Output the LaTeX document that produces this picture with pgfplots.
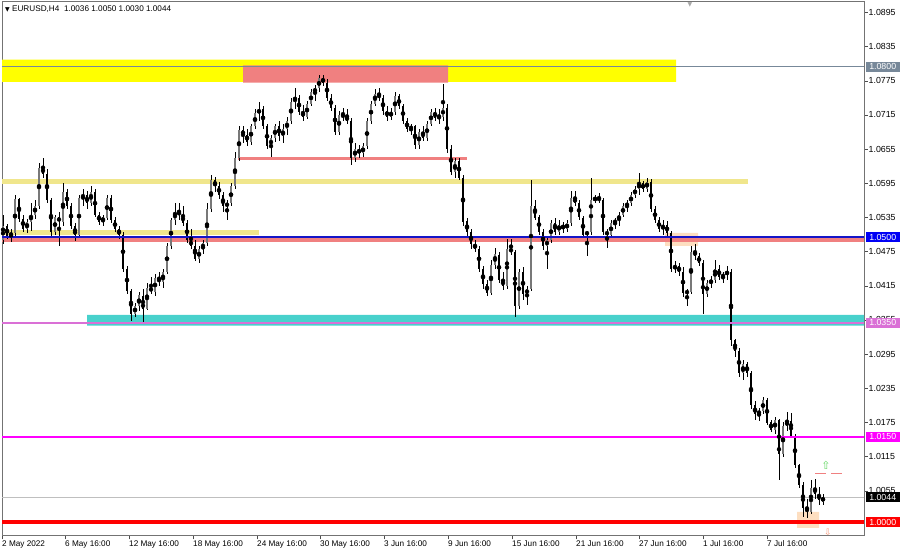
\documentclass[border=0pt]{standalone}
\usepackage{fontspec}
\setmainfont{Liberation Sans}
\newfontfamily\dejavu{DejaVu Sans}
\usepackage{pgfplots}
\usepackage{pgfplotstable}
\pgfplotsset{compat=1.18}

\definecolor{upbar}{RGB}{120,120,120}
\definecolor{zyellow}{RGB}{255,255,0}
\definecolor{zcoral}{RGB}{240,128,128}
\definecolor{zkhaki}{RGB}{240,230,140}
\definecolor{zteal}{RGB}{72,209,204}
\definecolor{zorchid}{RGB}{218,112,214}
\definecolor{zpeach}{RGB}{253,222,192}
\definecolor{zblue}{RGB}{20,20,200}
\definecolor{tagblue}{RGB}{0,0,245}
\definecolor{zmag}{RGB}{255,0,255}
\definecolor{zred}{RGB}{255,0,0}
\definecolor{zslate}{RGB}{119,136,153}
\definecolor{zpurple}{RGB}{147,112,219}
\definecolor{arrowgreen}{RGB}{100,215,100}
\definecolor{arrowred}{RGB}{245,150,120}

% EURUSD H4 bars: x = bar position, open high low close
\pgfplotstableread{
x o h l c
3 1.0495 1.0539 1.0488 1.0520
7 1.0520 1.0524 1.0497 1.0503
11 1.0503 1.0515 1.0492 1.0508
15 1.0508 1.0574 1.0500 1.0568
19 1.0568 1.0570 1.0527 1.0533
23 1.0533 1.0540 1.0510 1.0515
27 1.0515 1.0532 1.0508 1.0528
31 1.0528 1.0560 1.0512 1.0540
35 1.0540 1.0565 1.0532 1.0555
39 1.0555 1.0630 1.0550 1.0622
43 1.0622 1.0640 1.0605 1.0612
47 1.0612 1.0620 1.0560 1.0565
51 1.0565 1.0570 1.0500 1.0510
55 1.0510 1.0540 1.0505 1.0535
59 1.0535 1.0545 1.0485 1.0528
63 1.0528 1.0595 1.0520 1.0580
67 1.0580 1.0585 1.0550 1.0555
71 1.0555 1.0560 1.0515 1.0520
75 1.0520 1.0525 1.0493 1.0505
79 1.0505 1.0575 1.0500 1.0570
83 1.0570 1.0585 1.0555 1.0575
87 1.0575 1.0582 1.0550 1.0560
91 1.0560 1.0590 1.0555 1.0580
95 1.0580 1.0585 1.0535 1.0540
99 1.0540 1.0545 1.0522 1.0528
103 1.0528 1.0540 1.0520 1.0535
107 1.0535 1.0575 1.0530 1.0570
111 1.0570 1.0574 1.0525 1.0530
115 1.0530 1.0535 1.0510 1.0515
119 1.0515 1.0520 1.0498 1.0505
123 1.0505 1.0510 1.0440 1.0445
127 1.0445 1.0450 1.0400 1.0405
131 1.0405 1.0410 1.0354 1.0365
135 1.0365 1.0385 1.0360 1.0380
139 1.0380 1.0405 1.0370 1.0398
143 1.0398 1.0410 1.0350 1.0375
147 1.0375 1.0420 1.0372 1.0412
151 1.0412 1.0430 1.0400 1.0405
155 1.0405 1.0435 1.0398 1.0428
159 1.0428 1.0440 1.0415 1.0422
163 1.0422 1.0445 1.0412 1.0440
167 1.0440 1.0490 1.0435 1.0485
171 1.0485 1.0535 1.0480 1.0530
175 1.0530 1.0560 1.0522 1.0545
179 1.0545 1.0560 1.0530 1.0540
183 1.0540 1.0555 1.0520 1.0525
187 1.0525 1.0530 1.0490 1.0495
191 1.0495 1.0515 1.0480 1.0485
195 1.0485 1.0495 1.0458 1.0462
199 1.0462 1.0485 1.0455 1.0480
203 1.0480 1.0495 1.0470 1.0490
207 1.0490 1.0560 1.0485 1.0550
211 1.0550 1.0610 1.0545 1.0600
215 1.0600 1.0607 1.0580 1.0590
219 1.0590 1.0598 1.0568 1.0575
223 1.0575 1.0580 1.0545 1.0555
227 1.0555 1.0565 1.0530 1.0560
231 1.0560 1.0595 1.0555 1.0590
235 1.0590 1.0650 1.0585 1.0640
239 1.0640 1.0695 1.0635 1.0688
243 1.0688 1.0695 1.0665 1.0680
247 1.0680 1.0690 1.0660 1.0668
251 1.0668 1.0700 1.0662 1.0695
255 1.0695 1.0725 1.0690 1.0718
259 1.0718 1.0738 1.0705 1.0725
263 1.0725 1.0730 1.0690 1.0695
267 1.0695 1.0700 1.0655 1.0660
271 1.0660 1.0680 1.0641 1.0675
275 1.0675 1.0700 1.0668 1.0695
279 1.0695 1.0705 1.0670 1.0678
283 1.0678 1.0700 1.0665 1.0690
287 1.0690 1.0712 1.0680 1.0705
291 1.0705 1.0745 1.0700 1.0738
295 1.0738 1.0762 1.0725 1.0745
299 1.0745 1.0750 1.0715 1.0720
303 1.0720 1.0732 1.0705 1.0712
307 1.0712 1.0740 1.0708 1.0735
311 1.0735 1.0760 1.0730 1.0755
315 1.0755 1.0768 1.0740 1.0762
319 1.0762 1.0785 1.0755 1.0780
323 1.0780 1.0786 1.0765 1.0772
327 1.0772 1.0778 1.0740 1.0745
331 1.0745 1.0752 1.0722 1.0728
335 1.0728 1.0732 1.0680 1.0685
339 1.0685 1.0722 1.0680 1.0715
343 1.0715 1.0728 1.0705 1.0712
347 1.0712 1.0725 1.0700 1.0705
351 1.0705 1.0710 1.0627 1.0640
355 1.0640 1.0665 1.0632 1.0655
359 1.0655 1.0662 1.0640 1.0648
363 1.0648 1.0665 1.0642 1.0660
367 1.0660 1.0710 1.0655 1.0705
371 1.0705 1.0740 1.0700 1.0735
375 1.0735 1.0761 1.0730 1.0752
379 1.0752 1.0762 1.0740 1.0745
383 1.0745 1.0750 1.0715 1.0722
387 1.0722 1.0730 1.0705 1.0712
391 1.0712 1.0728 1.0706 1.0720
395 1.0720 1.0755 1.0715 1.0748
399 1.0748 1.0752 1.0725 1.0730
403 1.0730 1.0735 1.0700 1.0705
407 1.0705 1.0710 1.0685 1.0690
411 1.0690 1.0700 1.0680 1.0695
415 1.0695 1.0698 1.0655 1.0662
419 1.0662 1.0690 1.0655 1.0685
423 1.0685 1.0695 1.0670 1.0675
427 1.0675 1.0705 1.0670 1.0700
431 1.0700 1.0725 1.0695 1.0720
435 1.0720 1.0728 1.0705 1.0710
439 1.0710 1.0725 1.0700 1.0712
443 1.0712 1.0770 1.0705 1.0728
447 1.0728 1.0735 1.0648 1.0655
451 1.0655 1.0662 1.0610 1.0615
455 1.0615 1.0640 1.0605 1.0635
459 1.0635 1.0640 1.0600 1.0605
463 1.0605 1.0610 1.0520 1.0528
467 1.0528 1.0535 1.0500 1.0510
471 1.0510 1.0515 1.0480 1.0488
475 1.0488 1.0495 1.0475 1.0480
479 1.0480 1.0485 1.0440 1.0445
483 1.0445 1.0450 1.0410 1.0418
487 1.0418 1.0425 1.0398 1.0402
491 1.0402 1.0460 1.0398 1.0452
495 1.0452 1.0482 1.0445 1.0470
499 1.0470 1.0475 1.0420 1.0425
503 1.0425 1.0440 1.0408 1.0415
507 1.0415 1.0498 1.0410 1.0480
511 1.0480 1.0498 1.0470 1.0475
515 1.0475 1.0478 1.0360 1.0380
519 1.0380 1.0445 1.0375 1.0440
523 1.0440 1.0448 1.0390 1.0400
527 1.0400 1.0415 1.0382 1.0410
531 1.0410 1.0600 1.0405 1.0555
535 1.0555 1.0565 1.0530 1.0535
539 1.0535 1.0540 1.0505 1.0510
543 1.0510 1.0515 1.0478 1.0485
547 1.0485 1.0500 1.0445 1.0495
551 1.0495 1.0530 1.0490 1.0525
555 1.0525 1.0535 1.0505 1.0510
559 1.0510 1.0530 1.0505 1.0522
563 1.0522 1.0528 1.0508 1.0515
567 1.0515 1.0530 1.0510 1.0525
571 1.0525 1.0581 1.0520 1.0570
575 1.0570 1.0582 1.0555 1.0560
579 1.0560 1.0565 1.0530 1.0535
583 1.0535 1.0538 1.0500 1.0505
587 1.0505 1.0512 1.0468 1.0510
591 1.0510 1.0604 1.0505 1.0565
595 1.0565 1.0575 1.0560 1.0570
599 1.0570 1.0578 1.0560 1.0565
603 1.0565 1.0570 1.0505 1.0510
607 1.0510 1.0515 1.0481 1.0505
611 1.0505 1.0530 1.0500 1.0525
615 1.0525 1.0535 1.0515 1.0530
619 1.0530 1.0545 1.0520 1.0540
623 1.0540 1.0560 1.0535 1.0555
627 1.0555 1.0565 1.0545 1.0560
631 1.0560 1.0580 1.0555 1.0575
635 1.0575 1.0590 1.0570 1.0585
639 1.0585 1.0613 1.0575 1.0595
643 1.0595 1.0600 1.0580 1.0585
647 1.0585 1.0605 1.0580 1.0598
651 1.0598 1.0602 1.0545 1.0550
655 1.0550 1.0555 1.0525 1.0530
659 1.0530 1.0535 1.0510 1.0515
663 1.0515 1.0530 1.0505 1.0522
667 1.0522 1.0528 1.0502 1.0508
671 1.0508 1.0512 1.0440 1.0445
675 1.0445 1.0458 1.0438 1.0450
679 1.0450 1.0455 1.0432 1.0440
683 1.0440 1.0448 1.0395 1.0403
687 1.0403 1.0410 1.0380 1.0405
691 1.0405 1.0485 1.0400 1.0475
695 1.0475 1.0488 1.0460 1.0468
699 1.0468 1.0472 1.0450 1.0455
703 1.0455 1.0460 1.0365 1.0400
707 1.0400 1.0425 1.0395 1.0420
711 1.0420 1.0432 1.0412 1.0425
715 1.0425 1.0460 1.0420 1.0445
719 1.0445 1.0452 1.0425 1.0430
723 1.0430 1.0440 1.0420 1.0435
727 1.0435 1.0450 1.0425 1.0440
731 1.0440 1.0445 1.0310 1.0320
735 1.0320 1.0322 1.0290 1.0300
739 1.0300 1.0305 1.0255 1.0262
743 1.0262 1.0285 1.0250 1.0278
747 1.0278 1.0282 1.0255 1.0262
751 1.0262 1.0265 1.0198 1.0205
755 1.0205 1.0212 1.0180 1.0190
759 1.0190 1.0200 1.0178 1.0195
763 1.0195 1.0219 1.0190 1.0215
767 1.0215 1.0218 1.0170 1.0175
771 1.0175 1.0180 1.0158 1.0162
775 1.0162 1.0185 1.0155 1.0180
779 1.0180 1.0182 1.0074 1.0120
783 1.0120 1.0175 1.0115 1.0168
787 1.0168 1.0193 1.0160 1.0178
791 1.0178 1.0192 1.0148 1.0152
795 1.0152 1.0155 1.0095 1.0100
799 1.0100 1.0102 1.0060 1.0065
803 1.0065 1.0070 1.0009 1.0025
807 1.0025 1.0040 1.0008 1.0018
811 1.0018 1.0074 1.0015 1.0060
815 1.0060 1.0075 1.0040 1.0050
819 1.0050 1.0062 1.0030 1.0038
823 1.0036 1.0050 1.0030 1.0044
}\candles

\tikzset{tag/.style={anchor=west, inner sep=0pt, minimum width=34pt, minimum height=10pt,
  text=white, xshift=1.5pt, font=\fontsize{8.8}{10}\selectfont}}

\begin{document}
\begin{tikzpicture}[x=1pt,y=1pt]
\begin{axis}[
  set layers,
  at={(2,25)}, anchor=south west,
  scale only axis, width=862pt, height=534pt,
  xmin=2, xmax=864, ymin=0.99760, ymax=1.09138,
  clip=false,
  axis line style={black!55, line width=0.8pt},
  tick align=outside, major tick length=3.5pt,
  tick style={black!70, line width=0.5pt},
  xtick pos=bottom, ytick pos=right, yticklabel pos=right,
  xtick={2,65,129,193,257,320,384,448,512,576,639,703,767},
  xticklabels={2 May 2022,6 May 16:00,12 May 16:00,18 May 16:00,24 May 16:00,30 May 16:00,3 Jun 16:00,9 Jun 16:00,15 Jun 16:00,21 Jun 16:00,27 Jun 16:00,1 Jul 16:00,7 Jul 16:00},
  ytick={1.0055,1.0115,1.0175,1.0235,1.0295,1.0355,1.0415,1.0475,1.0535,1.0595,1.0655,1.0715,1.0775,1.0835,1.0895},
  yticklabels={1.0055,1.0115,1.0175,1.0235,1.0295,1.0355,1.0415,1.0475,1.0535,1.0595,1.0655,1.0715,1.0775,1.0835,1.0895},
  xticklabel style={anchor=north west, inner sep=1pt, xshift=-1pt, font=\fontsize{8.2}{9}\selectfont},
  yticklabel style={anchor=west, inner sep=1pt, font=\fontsize{8.8}{10}\selectfont},
]

% zones
\addplot[draw=none, fill=zyellow] coordinates {(2,1.0773)(676,1.0773)(676,1.0812)(2,1.0812)(2,1.0773)};
\addplot[draw=none, fill=zcoral] coordinates {(243,1.0772)(448,1.0772)(448,1.0802)(243,1.0802)(243,1.0772)};
\addplot[draw=none, fill=zpeach] coordinates {(665,1.0485)(698,1.0485)(698,1.0508)(665,1.0508)(665,1.0485)};
\addplot[draw=none, fill=zteal] coordinates {(87,1.0345)(864,1.0345)(864,1.0364)(87,1.0364)(87,1.0345)};
\addplot[draw=none, fill=zpeach] coordinates {(797,0.9990)(819,0.9990)(819,1.0018)(797,1.0018)(797,0.9990)};

% levels
\addplot[zcoral, line width=3pt] coordinates {(238,1.0638)(467,1.0638)};
\addplot[zkhaki, line width=5pt] coordinates {(2,1.0598)(748,1.0598)};
\addplot[zkhaki, line width=5pt] coordinates {(2,1.0509)(259,1.0509)};
\addplot[zcoral, line width=4.5pt] coordinates {(2,1.0495)(864,1.0495)};
\addplot[black!25, line width=0.6pt] coordinates {(2,1.0044)(864,1.0044)};
\addplot[zred, line width=4pt] coordinates {(2,1.0000)(864,1.0000)};

% candles: wicks, bodies up, bodies down
\addplot[only marks, mark=none, error bars/.cd, y dir=both, y explicit, error mark=none,
  error bar style={draw=black, line width=0.8pt}]
  table[x=x, y expr={(\thisrow{h}+\thisrow{l})/2}, y error expr={(\thisrow{h}-\thisrow{l})/2}] {\candles};
\addplot[only marks, mark=none, restrict expr to domain={\thisrow{c}-\thisrow{o}}{0:1},
  error bars/.cd, y dir=both, y explicit, error mark=none,
  error bar style={draw=upbar, line width=2.8pt}]
  table[x=x, y expr={(\thisrow{o}+\thisrow{c})/2}, y error expr={abs(\thisrow{c}-\thisrow{o})/2}] {\candles};
\addplot[only marks, mark=none, restrict expr to domain={\thisrow{c}-\thisrow{o}}{-1:0},
  error bars/.cd, y dir=both, y explicit, error mark=none,
  error bar style={draw=black, line width=2.8pt}]
  table[x=x, y expr={(\thisrow{o}+\thisrow{c})/2}, y error expr={abs(\thisrow{c}-\thisrow{o})/2}] {\candles};

% thin lines on top
\addplot[zslate, line width=0.8pt] coordinates {(2,1.0800)(864,1.0800)};
\addplot[zblue, line width=2pt] coordinates {(2,1.0501)(864,1.0501)};
\addplot[zorchid, line width=1.5pt] coordinates {(2,1.0350)(864,1.0350)};
\addplot[zmag, line width=2pt] coordinates {(2,1.0150)(864,1.0150)};
\addplot[zcoral, line width=1pt, dash pattern=on 11pt off 5pt] coordinates {(815,1.0086)(843,1.0086)};

% price tags
\node[tag, fill=zslate] at (axis cs:864,1.0800) {1.0800};
\node[tag, fill=tagblue] at (axis cs:864,1.0500) {1.0500};
\node[tag, fill=zorchid] at (axis cs:864,1.0350) {1.0350};
\node[tag, fill=zmag] at (axis cs:864,1.0150) {1.0150};
\node[tag, fill=black] at (axis cs:864,1.0044) {1.0044};
\node[tag, fill=zred] at (axis cs:864,1.0000) {1.0000};

% arrows and markers
\node[text=arrowgreen, font=\dejavu\fontsize{11}{11}\selectfont] at (axis cs:826,1.0100) {⇧};
\node[text=arrowred, font=\dejavu\fontsize{9}{9}\selectfont] at (axis cs:828,0.9982) {⇩};
\node[text=black!35, anchor=north, inner sep=0pt, font=\dejavu\fontsize{6}{6}\selectfont] at (axis cs:690,1.0912) {▼};

% title
\node[anchor=north west, inner sep=0pt, xshift=3pt, yshift=-4pt, font=\fontsize{8.2}{9}\selectfont]
  at (rel axis cs:0,1) {{\dejavu\fontsize{6}{6}\selectfont ▼} EURUSD,H4\ \ 1.0036 1.0050 1.0030 1.0044};
\end{axis}
\pgfresetboundingbox
\path (0,0) rectangle (900,550);
\end{tikzpicture}
\end{document}
